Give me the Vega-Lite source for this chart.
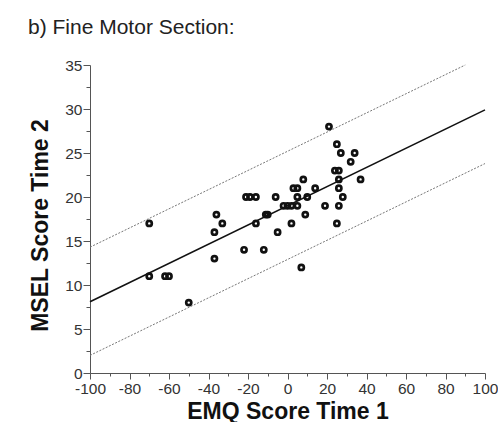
{
  "$schema": "https://vega.github.io/schema/vega-lite/v6.json",
  "width": 395,
  "height": 308,
  "autosize": {"type": "none"},
  "padding": {"left": 90, "top": 65, "right": 13, "bottom": 49},
  "background": "white",
  "title": {
    "text": "b) Fine Motor Section:",
    "anchor": "start",
    "frame": "group",
    "dx": -62,
    "dy": 26,
    "offset": 29,
    "baseline": "alphabetic",
    "font": "Liberation Sans",
    "fontSize": 21,
    "fontWeight": "normal",
    "color": "#222222"
  },
  "config": {
    "view": {"stroke": null},
    "axis": {
      "labelFont": "Liberation Sans",
      "titleFont": "Liberation Sans",
      "grid": false,
      "domainColor": "#555555",
      "tickColor": "#555555",
      "labelColor": "#333333",
      "labelFontSize": 15.5,
      "titleFontSize": 23,
      "titleFontWeight": "bold",
      "titleColor": "#111111",
      "labelOverlap": false
    }
  },
  "datasets": {
    "points": [
      {"emq": -70, "msel": 17}, {"emq": -70, "msel": 11}, {"emq": -62, "msel": 11},
      {"emq": -60, "msel": 11}, {"emq": -50, "msel": 8}, {"emq": -37, "msel": 13},
      {"emq": -37, "msel": 16}, {"emq": -36, "msel": 18}, {"emq": -33, "msel": 17},
      {"emq": -22, "msel": 14}, {"emq": -12, "msel": 14}, {"emq": -21, "msel": 20},
      {"emq": -19, "msel": 20}, {"emq": -16, "msel": 20}, {"emq": -16, "msel": 17},
      {"emq": -11, "msel": 18}, {"emq": -10, "msel": 18}, {"emq": -6, "msel": 20},
      {"emq": -5, "msel": 16}, {"emq": -2, "msel": 19}, {"emq": 0, "msel": 19},
      {"emq": 2, "msel": 19}, {"emq": 5, "msel": 19}, {"emq": 2, "msel": 17},
      {"emq": 3, "msel": 21}, {"emq": 5, "msel": 21}, {"emq": 5, "msel": 20},
      {"emq": 8, "msel": 22}, {"emq": 10, "msel": 20}, {"emq": 9, "msel": 18},
      {"emq": 7, "msel": 12}, {"emq": 14, "msel": 21}, {"emq": 19, "msel": 19},
      {"emq": 21, "msel": 28}, {"emq": 25, "msel": 26}, {"emq": 27, "msel": 25},
      {"emq": 34, "msel": 25}, {"emq": 32, "msel": 24}, {"emq": 24, "msel": 23},
      {"emq": 26, "msel": 23}, {"emq": 37, "msel": 22}, {"emq": 26, "msel": 22},
      {"emq": 26, "msel": 21}, {"emq": 28, "msel": 20}, {"emq": 26, "msel": 19},
      {"emq": 25, "msel": 17}
    ],
    "lines": [
      {"emq": -100, "msel": 8.1, "kind": "fit"},
      {"emq": 100, "msel": 29.9, "kind": "fit"},
      {"emq": -100, "msel": 14.3, "kind": "upper"},
      {"emq": 90, "msel": 35, "kind": "upper"},
      {"emq": -100, "msel": 2.0, "kind": "lower"},
      {"emq": 100, "msel": 23.8, "kind": "lower"}
    ]
  },
  "encoding": {
    "x": {
      "field": "emq",
      "type": "quantitative",
      "scale": {"domain": [-100, 100], "nice": false, "zero": false},
      "axis": {
        "title": "EMQ Score Time 1",
        "values": [-100, -90, -80, -70, -60, -50, -40, -30, -20, -10, 0, 10, 20, 30, 40, 50, 60, 70, 80, 90, 100],
        "labelExpr": "datum.value % 20 === 0 ? '' + datum.value : ''",
        "tickSize": {"condition": {"test": "datum.value % 20 === 0", "value": 6}, "value": 3},
        "labelPadding": 2,
        "labelFlush": false,
        "labelOverlap": false,
        "titleX": 197.5,
        "titleY": 45,
        "titleBaseline": "alphabetic",
        "titleAlign": "center"
      }
    },
    "y": {
      "field": "msel",
      "type": "quantitative",
      "scale": {"domain": [0, 35], "nice": false, "zero": false},
      "axis": {
        "title": "MSEL Score Time 2",
        "values": [0, 2.5, 5, 7.5, 10, 12.5, 15, 17.5, 20, 22.5, 25, 27.5, 30, 32.5, 35],
        "labelExpr": "datum.value % 5 === 0 ? '' + datum.value : ''",
        "tickSize": {"condition": {"test": "datum.value % 5 === 0", "value": 7}, "value": 4},
        "labelPadding": 1,
        "labelFlush": false,
        "labelOverlap": false,
        "titleX": -50,
        "titleY": 160,
        "titleAngle": -90,
        "titleBaseline": "middle",
        "titleAlign": "center"
      }
    }
  },
  "layer": [
    {
      "data": {"name": "lines"},
      "transform": [{"filter": "datum.kind !== 'fit'"}],
      "mark": {"type": "line", "color": "#777777", "strokeWidth": 1, "strokeDash": [2, 1.5]},
      "encoding": {
        "detail": {"field": "kind"}
      }
    },
    {
      "data": {"name": "lines"},
      "transform": [{"filter": "datum.kind === 'fit'"}],
      "mark": {"type": "line", "color": "#111111", "strokeWidth": 1.6},
      "encoding": {}
    },
    {
      "data": {"name": "points"},
      "mark": {"type": "point", "shape": "circle", "filled": false, "stroke": "#111111", "strokeWidth": 2.7, "size": 26, "opacity": 1},
      "encoding": {}
    }
  ]
}
